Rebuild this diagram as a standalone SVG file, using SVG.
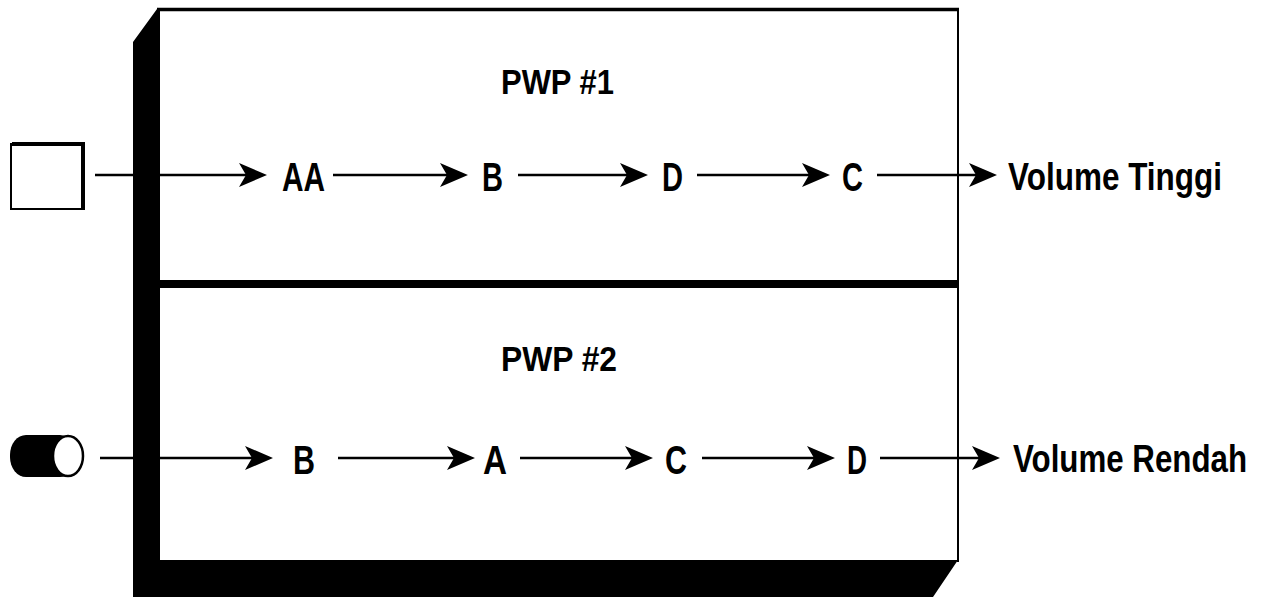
<svg xmlns="http://www.w3.org/2000/svg" width="1262" height="597" viewBox="0 0 1262 597">
  <style>
    .lbl { font-family: "Liberation Sans Narrow", "Liberation Sans", Arial, sans-serif; font-weight: bold; fill: #000; }
    .node { font-size: 41px; }
    .out { font-size: 38px; }
    .title { font-size: 35px; }
    .conn { stroke: #000; stroke-width: 2.5; fill: none; marker-end: url(#arrow); }
  </style>
  <defs>
    <marker id="arrow" markerUnits="userSpaceOnUse" viewBox="0 0 28 26" markerWidth="28" markerHeight="26" refX="18" refY="13" orient="auto">
      <path d="M0,1 L28,13 L0,25 L7,13 Z" fill="#000"/>
    </marker>
  </defs>
  <rect width="1262" height="597" fill="#fff"/>

  <g id="frame">
    <polygon points="133,42 157,9 160,9 160,560 958,560 933,597 133,597" fill="#000"/>
    <rect x="160" y="10" width="797" height="550" fill="#fff"/>
    <line x1="157" y1="9.5" x2="959" y2="9.5" stroke="#000" stroke-width="3.5"/>
    <line x1="958" y1="8" x2="958" y2="562" stroke="#000" stroke-width="2"/>
    <rect x="160" y="280" width="798" height="8" fill="#000"/>
  </g>

  <g id="src-square">
    <rect x="11" y="144" width="72" height="65" fill="#fff" stroke="#000" stroke-width="2"/>
    <polyline points="12,144 83,144 83,210" fill="none" stroke="#000" stroke-width="4"/>
  </g>
  <g id="src-cylinder">
    <rect x="10" y="435" width="66" height="42" rx="16" ry="20" fill="#000"/>
    <ellipse cx="68" cy="456" rx="15" ry="20" fill="#fff" stroke="#000" stroke-width="2.5"/>
  </g>

  <g id="connectors">
    <line class="conn" x1="95" y1="175" x2="257" y2="175"/>
    <line class="conn" x1="333" y1="175" x2="458" y2="175"/>
    <line class="conn" x1="518" y1="175" x2="638" y2="175"/>
    <line class="conn" x1="697" y1="175" x2="820" y2="175"/>
    <line class="conn" x1="877" y1="175" x2="987" y2="175"/>
    <line class="conn" x1="100" y1="458" x2="263" y2="458"/>
    <line class="conn" x1="338" y1="458" x2="465" y2="458"/>
    <line class="conn" x1="520" y1="458" x2="643" y2="458"/>
    <line class="conn" x1="702" y1="458" x2="825" y2="458"/>
    <line class="conn" x1="880" y1="458" x2="990" y2="458"/>
  </g>

  <g id="pwp1"><text class="lbl title" x="501" y="94" textLength="113" lengthAdjust="spacingAndGlyphs">PWP #1</text></g>
  <g id="pwp2"><text class="lbl title" x="501" y="371" textLength="116" lengthAdjust="spacingAndGlyphs">PWP #2</text></g>

  <g id="r1-AA"><text class="lbl node" x="282" y="191" textLength="43" lengthAdjust="spacingAndGlyphs">AA</text></g>
  <g id="r1-B"><text class="lbl node" x="482" y="191" textLength="21" lengthAdjust="spacingAndGlyphs">B</text></g>
  <g id="r1-D"><text class="lbl node" x="662" y="191" textLength="21" lengthAdjust="spacingAndGlyphs">D</text></g>
  <g id="r1-C"><text class="lbl node" x="842" y="191" textLength="21" lengthAdjust="spacingAndGlyphs">C</text></g>
  <g id="r1-out"><text class="lbl out" x="1008" y="190" textLength="214" lengthAdjust="spacingAndGlyphs">Volume Tinggi</text></g>

  <g id="r2-B"><text class="lbl node" x="293" y="474" textLength="22" lengthAdjust="spacingAndGlyphs">B</text></g>
  <g id="r2-A"><text class="lbl node" x="483" y="474" textLength="24" lengthAdjust="spacingAndGlyphs">A</text></g>
  <g id="r2-C"><text class="lbl node" x="665" y="474" textLength="22" lengthAdjust="spacingAndGlyphs">C</text></g>
  <g id="r2-D"><text class="lbl node" x="847" y="474" textLength="20" lengthAdjust="spacingAndGlyphs">D</text></g>
  <g id="r2-out"><text class="lbl out" x="1013" y="472" textLength="234" lengthAdjust="spacingAndGlyphs">Volume Rendah</text></g>
</svg>
